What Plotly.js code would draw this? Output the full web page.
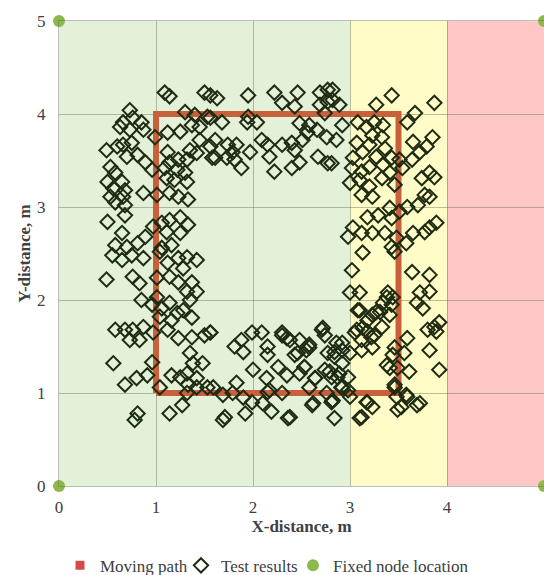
<!DOCTYPE html>
<html><head><meta charset="utf-8">
<script src="https://cdn.plot.ly/plotly-3.0.1.min.js"></script>
<style>html,body{margin:0;padding:0;background:#fff}#chart{width:544px;height:575px}</style>
</head><body><div id="chart"></div>
<script>
const pathX = [1, 1, 3.5, 3.5, 1];
const pathY = [1, 4, 4, 1, 1];
const nodeX = [0, 0, 5, 5];
const nodeY = [0, 5, 0, 5];
const zoneEdges = [0, 3, 4, 5];
const zoneColors = ['#e2f1d8', '#fffcc8', '#ffc6c6'];
const tickVals = [0, 1, 2, 3, 4, 5];
const testX = [
1.09,1.14,1.50,0.73,0.66,0.76,0.85,0.63,0.73,0.87,0.99,1.12,1.25,1.30,1.40,1.37,1.45,1.53,1.45,1.35,1.42,1.58,0.49,0.60,0.66,0.75,0.70,0.81,0.89,0.96,1.12,1.14,1.23,1.32,1.09,1.22,1.30,1.11,1.19,1.32,0.53,0.58,0.50,0.65,0.56,0.68,0.53,0.66,0.58,0.68,0.68,0.87,1.01,1.14,1.23,1.33,0.50,0.65,0.89,0.97,1.06,1.14,1.25,1.33,1.11,1.25,0.58,0.70,0.81,1.06,1.16,
0.55,0.65,0.75,0.87,1.04,1.12,1.23,1.32,1.42,1.28,0.49,0.76,0.83,1.01,1.14,1.23,1.37,1.32,1.42,1.35,0.85,1.01,0.96,1.06,1.14,1.22,1.28,1.04,1.16,1.37,0.58,0.68,0.76,0.87,0.73,0.83,0.97,1.12,1.23,1.37,1.50,1.56,1.35,1.48,1.38,0.56,0.96,0.91,0.80,0.68,1.04,1.16,1.25,1.32,1.42,1.33,1.42,1.53,1.32,1.27,0.81,0.78,1.14,
1.63,1.56,1.95,2.22,2.46,2.30,2.43,2.69,2.77,2.77,2.69,2.74,1.95,2.04,1.94,1.68,1.56,2.48,2.58,2.66,2.76,2.56,1.61,1.56,1.74,1.83,1.79,1.97,1.73,1.61,1.81,1.88,2.09,2.15,2.30,2.40,2.51,2.17,2.43,2.48,2.40,2.22,2.67,2.77,
1.56,1.81,1.88,1.90,1.99,2.09,2.15,2.15,2.30,2.35,2.48,2.58,2.46,2.55,2.72,2.74,2.77,2.00,2.14,2.26,2.35,2.53,2.48,2.64,2.74,2.79,1.59,1.69,1.79,1.83,1.90,1.99,2.15,2.30,2.10,2.19,1.92,1.71,2.38,2.58,2.62,2.76,2.82,1.69,
2.82,2.82,2.89,3.43,3.27,3.87,3.67,3.59,2.92,3.08,3.17,3.25,3.34,2.86,2.81,3.07,3.23,3.33,3.20,3.36,3.13,3.27,3.43,3.51,3.65,3.79,3.85,3.72,3.64,3.03,3.02,3.12,3.20,3.34,3.41,3.54,3.33,3.10,3.00,3.20,3.46,3.74,3.82,3.87,3.12,3.23,3.77,3.82,3.18,3.29,3.43,3.51,3.59,3.70,3.41,3.03,2.98,3.12,3.23,3.36,3.48,3.65,3.77,3.82,3.89,3.58,3.43,
3.13,3.46,3.64,3.82,3.02,3.00,3.10,3.39,3.44,3.34,3.10,3.27,3.41,3.18,3.13,3.05,3.22,3.33,3.23,3.12,3.46,3.59,3.56,3.44,3.38,3.41,3.49,3.61,3.72,3.82,3.69,3.75,3.80,3.87,3.92,3.89,3.82,3.92,3.46,3.48,3.59,3.69,3.53,3.18,3.23,3.12,2.92,2.98,2.82,2.86,2.92,2.84,2.92,2.98,2.87,2.92,3.00,
3.08,3.23,3.31,3.38,3.43,3.07,3.18,3.25,3.12,2.30,2.38,2.58,2.43,2.53,2.71,2.84,2.64,2.81,2.89,2.91,3.00,2.61,2.81,2.84,2.36,3.17,3.10,3.49,3.46,3.58,3.72,2.17
];
const testY = [
4.23,4.19,4.23,4.04,3.91,3.96,3.91,3.86,3.83,3.83,3.75,3.80,3.81,4.02,3.99,3.88,3.86,3.97,3.72,3.61,3.58,3.53,3.61,3.65,3.67,3.69,3.54,3.56,3.48,3.40,3.59,3.48,3.51,3.51,3.42,3.40,3.37,3.31,3.29,3.27,3.43,3.37,3.27,3.27,3.20,3.18,3.11,3.11,3.05,3.02,2.91,3.15,3.13,3.15,3.11,3.08,2.84,2.72,2.68,2.79,2.83,2.86,2.89,2.81,2.73,2.72,2.59,2.57,2.61,2.56,2.59,
2.48,2.43,2.48,2.45,2.52,2.40,2.45,2.46,2.43,2.34,2.22,2.25,2.18,2.24,2.25,2.19,2.19,2.09,2.09,2.00,2.00,2.03,1.95,1.91,1.97,1.86,1.89,1.82,1.78,1.81,1.68,1.68,1.68,1.71,1.57,1.57,1.65,1.68,1.59,1.60,1.62,1.65,1.43,1.32,1.32,1.32,1.33,1.19,1.16,1.09,1.06,1.19,1.17,1.21,1.16,1.09,1.06,1.06,1.00,0.87,0.78,0.71,0.78,
4.17,4.20,4.20,4.23,4.23,4.12,4.08,4.23,4.26,4.13,4.10,4.01,3.97,3.91,3.91,3.91,3.96,3.90,3.88,3.83,3.75,3.80,3.72,3.65,3.67,3.67,3.59,3.59,3.53,3.53,3.51,3.42,3.72,3.67,3.67,3.69,3.72,3.54,3.61,3.48,3.42,3.38,3.54,3.47,
1.65,1.50,1.57,1.44,1.65,1.65,1.50,1.41,1.62,1.59,1.57,1.52,1.43,1.46,1.70,1.62,1.43,1.25,1.16,1.28,1.19,1.28,1.21,1.16,1.25,1.23,1.06,0.98,1.00,1.11,0.95,0.90,1.01,1.00,0.89,0.80,0.78,0.74,0.74,1.06,0.89,1.00,0.92,0.71,
4.26,4.15,4.10,4.20,4.10,4.12,4.01,3.91,3.88,3.91,3.86,3.91,3.88,3.72,3.47,3.69,3.77,3.75,3.67,3.63,3.59,3.54,3.53,3.51,3.70,3.65,3.75,3.59,3.51,3.53,3.42,3.38,3.43,3.45,3.37,3.42,3.31,3.29,3.26,3.22,3.24,3.31,3.37,3.32,3.13,3.11,3.13,3.11,2.89,2.91,2.88,2.95,3.00,3.02,2.99,2.78,2.68,2.72,2.72,2.72,2.67,2.72,2.73,2.78,2.83,2.61,2.57,
2.51,2.52,2.30,2.27,2.32,2.08,2.08,2.08,2.03,1.97,1.89,1.87,1.84,1.78,1.70,1.65,1.60,1.71,1.49,1.46,1.49,1.59,1.43,1.41,1.30,1.27,1.27,1.23,2.08,2.09,1.97,1.91,1.68,1.71,1.76,1.66,1.46,1.25,1.09,0.96,0.96,0.87,0.85,0.90,0.85,0.74,1.06,1.03,0.92,1.54,1.46,1.39,1.32,1.17,1.17,1.54,1.43,
1.89,1.84,1.87,2.03,1.95,1.68,1.66,1.62,1.57,1.65,1.57,1.49,1.41,1.28,1.68,1.44,1.16,1.17,1.21,1.06,0.96,0.87,0.90,0.73,0.73,0.90,0.73,0.82,1.06,0.98,0.89,1.03
];

const FONT = 'Liberation Serif, Times New Roman, serif';
const gridC = 'rgba(90,105,80,0.42)';

const shapes = zoneColors.map((c, i) => ({
  type: 'rect', xref: 'x', yref: 'paper',
  x0: zoneEdges[i], x1: zoneEdges[i + 1], y0: 0, y1: 1,
  fillcolor: c, line: {width: 0}, layer: 'below'
}));

const traces = [
  {x: pathX, y: pathY, mode: 'lines', name: 'Moving path', legendgroup: 'p', showlegend: false,
   line: {color: '#c8603c', width: 6}, hoverinfo: 'skip'},
  {x: [null], y: [null], mode: 'markers', name: 'Moving path', legendgroup: 'p', legend: 'legend',
   marker: {symbol: 'square', size: 9, color: '#d24b4b'}},
  {x: testX, y: testY, mode: 'markers', name: 'Test results', legend: 'legend2',
   marker: {symbol: 'diamond-open', size: 11, color: '#1f2c14', line: {width: 2, color: '#1f2c14'}}},
  {x: nodeX, y: nodeY, mode: 'markers', name: 'Fixed node location', cliponaxis: false, legend: 'legend3',
   marker: {symbol: 'circle', size: 12, color: '#8cb84c'}}
];

const axisBase = {
  range: [0, 5], tickvals: tickVals, ticktext: tickVals.map(String),
  showgrid: true, gridcolor: gridC, gridwidth: 1,
  zeroline: false, showline: true, linecolor: gridC, linewidth: 1, mirror: true,
  ticks: '', tickfont: {family: FONT, size: 17, color: '#404040'},
  fixedrange: true, automargin: false
};

function legendAt(px) {
  return {orientation: 'h', xref: 'container', yref: 'container', x: px / 544, xanchor: 'left',
    y: 0.016, yanchor: 'middle', font: {family: FONT, size: 17, color: '#404040'},
    itemwidth: 30, bgcolor: 'rgba(0,0,0,0)'};
}

const layout = {
  width: 544, height: 575,
  margin: {l: 59, r: 0, t: 21, b: 89, autoexpand: false},
  paper_bgcolor: '#ffffff', plot_bgcolor: '#ffffff',
  font: {family: FONT, color: '#404040'},
  shapes: shapes,
  xaxis: Object.assign({}, axisBase, {
    ticklabelstandoff: 6,
    title: {text: '<b>X-distance, m</b>', font: {family: FONT, size: 17, color: '#404040'}, standoff: 1}
  }),
  yaxis: Object.assign({}, axisBase, {
    ticklabelstandoff: 9,
    title: {text: '<b>Y-distance, m</b>', font: {family: FONT, size: 17, color: '#404040'}, standoff: 2}
  }),
  showlegend: true,
  legend: legendAt(60),
  legend2: legendAt(181),
  legend3: legendAt(293)
};

Plotly.newPlot('chart', traces, layout, {displayModeBar: false, staticPlot: true});
</script>
</body></html>
